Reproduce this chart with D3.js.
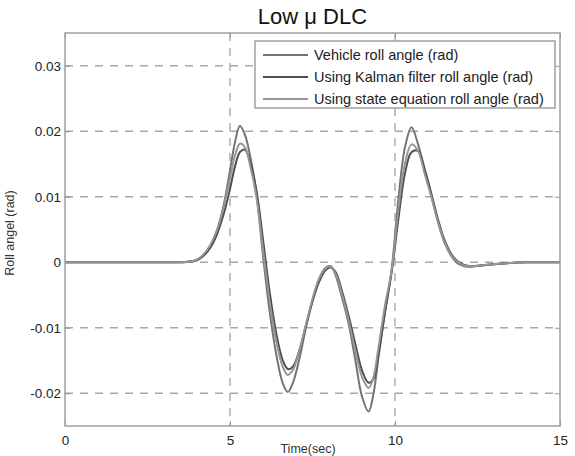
<!DOCTYPE html>
<html>
<head>
<meta charset="utf-8">
<script src="https://cdn.jsdelivr.net/npm/d3@7"></script>
<style>
  body { margin: 0; background: #fff; }
  svg { display: block; font-family: "Liberation Sans", Arial, sans-serif; }
</style>
</head>
<body>
<div id="chart"></div>
<script>
const W = 575, H = 456;
const margin = { top: 33, right: 15, bottom: 30, left: 65 },
      width = W - margin.left - margin.right,
      height = H - margin.top - margin.bottom;

// data
const time = [0, 1, 2, 3, 3.5, 3.8, 4.0, 4.2, 4.4, 4.6, 4.8, 5.0, 5.15, 5.3, 5.45, 5.6, 5.8,
  6.0, 6.2, 6.4, 6.6, 6.75, 6.9, 7.1, 7.3, 7.5, 7.7, 7.9, 8.05, 8.2, 8.4, 8.6, 8.8,
  9.0, 9.2, 9.35, 9.5, 9.7, 9.9, 10.1, 10.3, 10.5, 10.7, 10.9, 11.1, 11.3, 11.5, 11.7,
  11.9, 12.1, 12.3, 12.6, 13.0, 13.5, 14, 15];

const vehicle = [0, 0, 0, 0, 0, 0.0001, 0.0004, 0.0011, 0.0025, 0.0048, 0.0085, 0.0140, 0.0183, 0.0208, 0.0195, 0.0165, 0.0105,
  0.0010, -0.0075, -0.0140, -0.0185, -0.0198, -0.0185, -0.0148, -0.0100, -0.0058, -0.0025, -0.0008, -0.0006, -0.0020, -0.0055, -0.0095, -0.0150,
  -0.0205, -0.0228, -0.0200, -0.0145, -0.0075, -0.0010, 0.0095, 0.0175, 0.0206, 0.0180, 0.0140, 0.0102, 0.0062, 0.0030, 0.0010,
  -0.0002, -0.0006, -0.0007, -0.0005, -0.0003, -0.0001, 0, 0];

const kalman = [0, 0, 0, 0, 0, 0.0001, 0.0003, 0.0010, 0.0022, 0.0042, 0.0072, 0.0112, 0.0146, 0.0168, 0.0172, 0.0155, 0.0110,
  0.0035, -0.0045, -0.0108, -0.0150, -0.0163, -0.0160, -0.0135, -0.0097, -0.0060, -0.0030, -0.0012, -0.0008, -0.0015, -0.0045, -0.0083, -0.0125,
  -0.0165, -0.0184, -0.0178, -0.0140, -0.0075, -0.0015, 0.0065, 0.0135, 0.0168, 0.0170, 0.0142, 0.0105, 0.0066, 0.0034, 0.0013,
  0.0001, -0.0004, -0.0006, -0.0005, -0.0003, -0.0001, 0, 0];

const stateEq = [0, 0, 0, 0, 0, 0.0001, 0.0004, 0.0012, 0.0026, 0.0048, 0.0082, 0.0128, 0.0163, 0.0181, 0.0176, 0.0150, 0.0100,
  0.0020, -0.0060, -0.0120, -0.0160, -0.0172, -0.0165, -0.0135, -0.0095, -0.0056, -0.0025, -0.0009, -0.0007, -0.0018, -0.0050, -0.0090, -0.0135,
  -0.0175, -0.0192, -0.0175, -0.0130, -0.0065, -0.0012, 0.0080, 0.0150, 0.0180, 0.0170, 0.0135, 0.0100, 0.0062, 0.0031, 0.0011,
  0, -0.0005, -0.0006, -0.0005, -0.0003, -0.0001, 0, 0];

const xTicks = [0, 5, 10, 15];
const yTicks = [-0.02, -0.01, 0, 0.01, 0.02, 0.03];
const yTickLabels = ["-0.02", "-0.01", "0", "0.01", "0.02", "0.03"];

const series = [
  { name: "Vehicle roll angle (rad)", values: vehicle, color: "#747474" },
  { name: "Using Kalman filter roll angle (rad)", values: kalman, color: "#4e4e4e" },
  { name: "Using state equation roll angle (rad)", values: stateEq, color: "#959595" }
];

const svg = d3.select("#chart")
  .append("svg")
  .attr("width", W)
  .attr("height", H);

const g = svg.append("g")
  .attr("transform", `translate(${margin.left},${margin.top})`);

const x = d3.scaleLinear().domain([0, 15]).range([0, width]);
const y = d3.scaleLinear().domain([-0.025, 0.035]).range([height, 0]);

// grid
g.append("g")
  .selectAll("line")
  .data(yTicks)
  .join("line")
  .attr("x1", 0).attr("x2", width)
  .attr("y1", d => y(d)).attr("y2", d => y(d))
  .attr("stroke", "#a8a8a8")
  .attr("stroke-width", 1.4)
  .attr("stroke-dasharray", "8,7");

g.append("g")
  .selectAll("line")
  .data(xTicks.slice(1, 3))
  .join("line")
  .attr("x1", d => x(d)).attr("x2", d => x(d))
  .attr("y1", 0).attr("y2", height)
  .attr("stroke", "#a8a8a8")
  .attr("stroke-width", 1.4)
  .attr("stroke-dasharray", "8,7");

// lines
const line = d3.line()
  .x((d, i) => x(time[i]))
  .y(d => y(d))
  .curve(d3.curveCatmullRom.alpha(0.5));

g.append("g")
  .selectAll("path")
  .data(series)
  .join("path")
  .attr("fill", "none")
  .attr("stroke", d => d.color)
  .attr("stroke-width", 2)
  .attr("d", d => line(d.values));

// axes
const axisColor = "#999";
const styleAxis = sel => {
  sel.select(".domain").remove();
  sel.selectAll("line").attr("stroke", axisColor);
  sel.selectAll("text")
    .attr("fill", "#222")
    .style("font-size", "13.5px");
};

g.append("g")
  .call(d3.axisLeft(y).tickValues(yTicks).tickFormat((d, i) => yTickLabels[i])
    .tickSize(-5).tickPadding(4))
  .call(styleAxis);

g.append("g")
  .attr("transform", `translate(0,${height})`)
  .call(d3.axisBottom(x).tickValues(xTicks).tickSize(-5).tickPadding(9))
  .call(styleAxis);

g.append("g")
  .attr("transform", `translate(${width},0)`)
  .call(d3.axisRight(y).tickValues(yTicks).tickFormat("").tickSize(-5))
  .call(styleAxis);

g.append("g")
  .call(d3.axisTop(x).tickValues(xTicks).tickFormat("").tickSize(-5))
  .call(styleAxis);

g.append("rect")
  .attr("width", width)
  .attr("height", height)
  .attr("fill", "none")
  .attr("stroke", axisColor)
  .attr("stroke-width", 1.4);

// legend
const legend = g.append("g")
  .attr("transform", `translate(${255 - margin.left},${41 - margin.top})`);

legend.append("rect")
  .attr("width", 300)
  .attr("height", 67)
  .attr("fill", "#fff")
  .attr("stroke", "#999")
  .attr("stroke-width", 1.4);

const item = legend.selectAll(".item")
  .data(series)
  .join("g")
  .attr("transform", (d, i) => `translate(0,${14 + i * 22})`);

item.append("line")
  .attr("x1", 8).attr("x2", 53)
  .attr("stroke", d => d.color)
  .attr("stroke-width", 2);

item.append("text")
  .attr("x", 59)
  .attr("dy", "0.35em")
  .style("font-size", "14.5px")
  .attr("fill", "#222")
  .text(d => d.name);

// title and labels
svg.append("text")
  .attr("x", margin.left + width / 2)
  .attr("y", 24)
  .attr("text-anchor", "middle")
  .style("font-size", "22px")
  .attr("fill", "#111")
  .text("Low μ DLC");

svg.append("text")
  .attr("transform", `translate(14,${233}) rotate(-90)`)
  .attr("text-anchor", "middle")
  .style("font-size", "12.5px")
  .attr("fill", "#333")
  .text("Roll angel (rad)");

svg.append("text")
  .attr("x", 308)
  .attr("y", 453)
  .attr("text-anchor", "middle")
  .style("font-size", "12.5px")
  .attr("fill", "#333")
  .text("Time(sec)");
</script>
</body>
</html>
